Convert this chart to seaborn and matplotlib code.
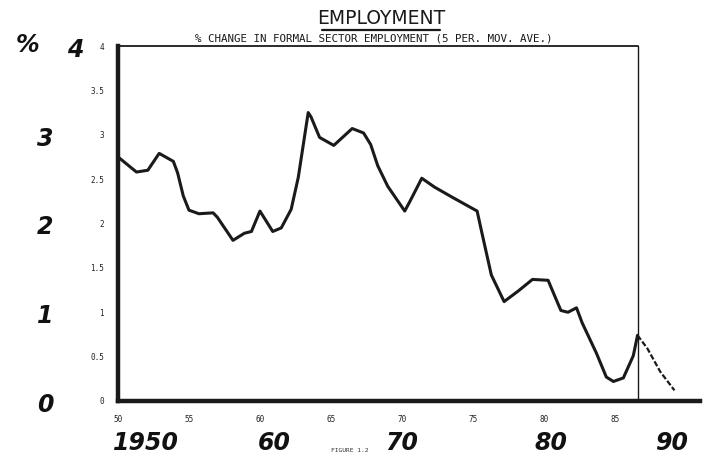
import seaborn as sns
import matplotlib.pyplot as plt
import pandas as pd

# --- data (5 period moving average, % change) ---
years = [50.0, 51.3, 52.1, 52.9, 53.9, 54.2, 54.6, 55.0, 55.7, 56.7, 57.0, 58.1,
         58.9, 59.4, 60.0, 60.9, 61.5, 62.2, 62.7, 63.4, 63.6, 64.2, 65.2, 66.5,
         67.3, 67.8, 68.3, 69.0, 70.2, 70.6, 71.4, 72.3, 73.5, 75.3, 75.6, 76.3,
         77.2, 78.2, 79.2, 80.3, 80.8, 81.2, 81.7, 82.3, 82.7, 83.7, 84.4, 84.9,
         85.6, 86.3, 86.6]
change = [2.75, 2.58, 2.60, 2.79, 2.70, 2.57, 2.31, 2.15, 2.11, 2.12, 2.07, 1.81,
          1.89, 1.91, 2.14, 1.91, 1.95, 2.16, 2.52, 3.25, 3.20, 2.97, 2.88, 3.07,
          3.02, 2.89, 2.65, 2.42, 2.14, 2.26, 2.51, 2.41, 2.30, 2.14, 1.92, 1.42,
          1.12, 1.24, 1.37, 1.36, 1.17, 1.02, 1.00, 1.05, 0.88, 0.54, 0.27, 0.22,
          0.26, 0.51, 0.74]
# projected tail beyond the cut-off line
proj_years = [86.6, 87.3, 88.2, 89.2]
proj_change = [0.74, 0.59, 0.33, 0.12]

cutoff_year = 86.6
x_ticks = [50, 55, 60, 65, 70, 75, 80, 85]
y_ticks = [0, 0.5, 1, 1.5, 2, 2.5, 3, 3.5, 4]
y_tick_labels = ["0", "0.5", "1", "1.5", "2", "2.5", "3", "3.5", "4"]

# hand-written notes on the scan
hand_y = [("3", 3.0), ("2", 2.0), ("1", 1.0), ("0", 0.0)]
hand_x = [("1950", 52.0), ("60", 61.0), ("70", 70.0), ("80", 80.5), ("90", 89.0)]

df = pd.DataFrame({"Year": years, "Change": change})
df_proj = pd.DataFrame({"Year": proj_years, "Change": proj_change})

sns.set_style("white")
plt.rcParams['font.family'] = ['DejaVu Sans']

fig = plt.figure(figsize=(7.03, 4.62), dpi=100)
ax = fig.add_axes([118 / 703, 1 - 401 / 462, 582 / 703, (401 - 46) / 462])

sns.lineplot(data=df, x="Year", y="Change", ax=ax, color="#1a1a1a",
             linewidth=2.2, sort=False)
sns.lineplot(data=df_proj, x="Year", y="Change", ax=ax, color="#1a1a1a",
             linewidth=1.6, linestyle=(0, (2.5, 1)), sort=False)

ax.set_xlim(50, 91)
ax.set_ylim(0, 4)

# frame: heavy left/bottom, thin top up to the cut-off, vertical cut-off line
for side in ["top", "right"]:
    ax.spines[side].set_visible(False)
ax.spines["left"].set_linewidth(3.2)
ax.spines["bottom"].set_linewidth(3.2)
ax.spines["left"].set_color("#1a1a1a")
ax.spines["bottom"].set_color("#1a1a1a")
ax.plot([50, cutoff_year], [4, 4], color="#1a1a1a", linewidth=1.3, clip_on=False)
ax.plot([cutoff_year, cutoff_year], [0, 4], color="#1a1a1a", linewidth=1.0, clip_on=False)

ax.set_xticks(x_ticks)
ax.set_xticklabels([str(t) for t in x_ticks], fontsize=5.5, family="DejaVu Sans Mono")
ax.set_yticks(y_ticks)
ax.set_yticklabels(y_tick_labels, fontsize=5.5, family="DejaVu Sans Mono")
ax.tick_params(axis="both", direction="out", length=2, width=0.8, pad=8, colors="#222222")
ax.set_xlabel("")
ax.set_ylabel("")

# titles
fig.text(381 / 703, 1 - 19 / 462, "EMPLOYMENT", ha="center", va="center",
         fontsize=13.5, color="#1a1a1a")
fig.add_artist(plt.Line2D([322 / 703, 440 / 703], [1 - 30 / 462, 1 - 30 / 462],
                          color="#1a1a1a", linewidth=1.6))
ax.text(68.0, 4.03, "% CHANGE IN FORMAL SECTOR EMPLOYMENT (5 PER. MOV. AVE.)",
        ha="center", va="bottom", fontsize=7.8, family="DejaVu Sans Mono",
        color="#1a1a1a")

# hand-written annotations
hand = dict(fontsize=17, fontweight="bold", fontstyle="italic", color="#111111")
fig.text(28 / 703, 1 - 45 / 462, "%", ha="center", va="center", **hand)
fig.text(75 / 703, 1 - 50 / 462, "4", ha="center", va="center", **hand)
for label, val in hand_y:
    y_px = 401 - val * 88.75
    fig.text(45 / 703, 1 - (y_px + 4) / 462, label, ha="center", va="center", **hand)
for label, yr in hand_x:
    x_px = 118 + (yr - 50) * 582 / 41
    fig.text(x_px / 703, 1 - 443 / 462, label, ha="center", va="center", **hand)
fig.text(350 / 703, 1 - 451 / 462, "FIGURE 1.2", ha="center", va="center",
         fontsize=4.5, family="DejaVu Sans Mono", color="#333333")

fig.savefig("out.png", dpi=100)
plt.close(fig)
